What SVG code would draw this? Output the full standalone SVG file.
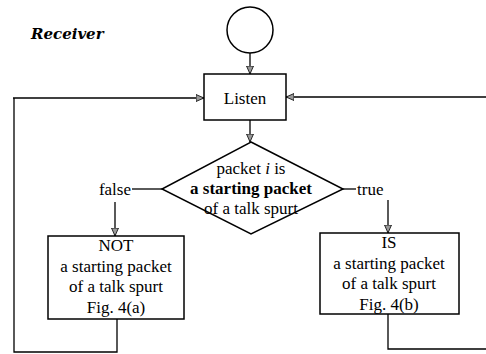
<svg xmlns="http://www.w3.org/2000/svg" width="486" height="354" viewBox="0 0 486 354">
<defs>
<marker id="arr" viewBox="0 0 8 8" refX="8" refY="4" markerWidth="8" markerHeight="8" markerUnits="userSpaceOnUse" orient="auto">
<path d="M0,0.5 L8,4 L0,7.5 Z" fill="#999" stroke="#000" stroke-width="0.8"/>
</marker>
</defs>
<style>
.s{fill:#fff;stroke:#000;stroke-width:1.5}
.c{fill:none;stroke:#000;stroke-width:1.3}
.t{font-family:"Liberation Serif","Times New Roman",Times,serif;font-size:17px;fill:#000}
.m{text-anchor:middle}
</style>
<rect width="486" height="354" fill="#fff"/>
<text x="31" y="39" font-family="DejaVu Serif, serif" font-size="15" font-weight="bold" font-style="italic">Receiver</text>
<g id="connectors">
<line class="c" x1="250" y1="53" x2="250" y2="74" marker-end="url(#arr)"/>
<line class="c" x1="250" y1="120" x2="250" y2="142" marker-end="url(#arr)"/>
<polyline class="c" points="13,98 204,98" marker-end="url(#arr)"/>
<polyline class="c" points="486,97 286,97" marker-end="url(#arr)"/>
<line class="c" x1="162" y1="189" x2="132" y2="189"/>
<line class="c" x1="343" y1="189" x2="356" y2="189"/>
<line class="c" x1="115" y1="202" x2="115" y2="236" marker-end="url(#arr)"/>
<line class="c" x1="388" y1="200" x2="388" y2="233" marker-end="url(#arr)"/>
<polyline class="c" points="117,319 117,352 14,352 14,98"/>
<polyline class="c" points="388,314 388,349 486,349"/>
<text class="t" x="131" y="195" text-anchor="end">false</text>
<text class="t" x="357" y="195">true</text>
</g>
<g id="start"><circle class="s" cx="250" cy="30" r="23"/></g>
<g id="listen">
<rect class="s" x="204" y="74" width="82" height="46"/>
<text class="t m" x="245" y="104">Listen</text>
</g>
<g id="decision">
<polygon class="s" points="251,142 343,189 251,234 162,189"/>
<text class="t m" x="251" y="174">packet <tspan font-style="italic">i</tspan> is</text>
<text class="t m" x="251" y="194" font-weight="bold">a starting packet</text>
<text class="t m" x="251" y="214">of a talk spurt</text>
</g>
<g id="not">
<rect class="s" x="48" y="236" width="136" height="83"/>
<text class="t m" x="116" y="251">NOT</text>
<text class="t m" x="116" y="272">a starting packet</text>
<text class="t m" x="116" y="292">of a talk spurt</text>
<text class="t m" x="116" y="313">Fig. 4(a)</text>
</g>
<g id="is">
<rect class="s" x="320" y="233" width="139" height="81"/>
<text class="t m" x="389" y="248">IS</text>
<text class="t m" x="389" y="269">a starting packet</text>
<text class="t m" x="389" y="289">of a talk spurt</text>
<text class="t m" x="389" y="310">Fig. 4(b)</text>
</g>
</svg>
